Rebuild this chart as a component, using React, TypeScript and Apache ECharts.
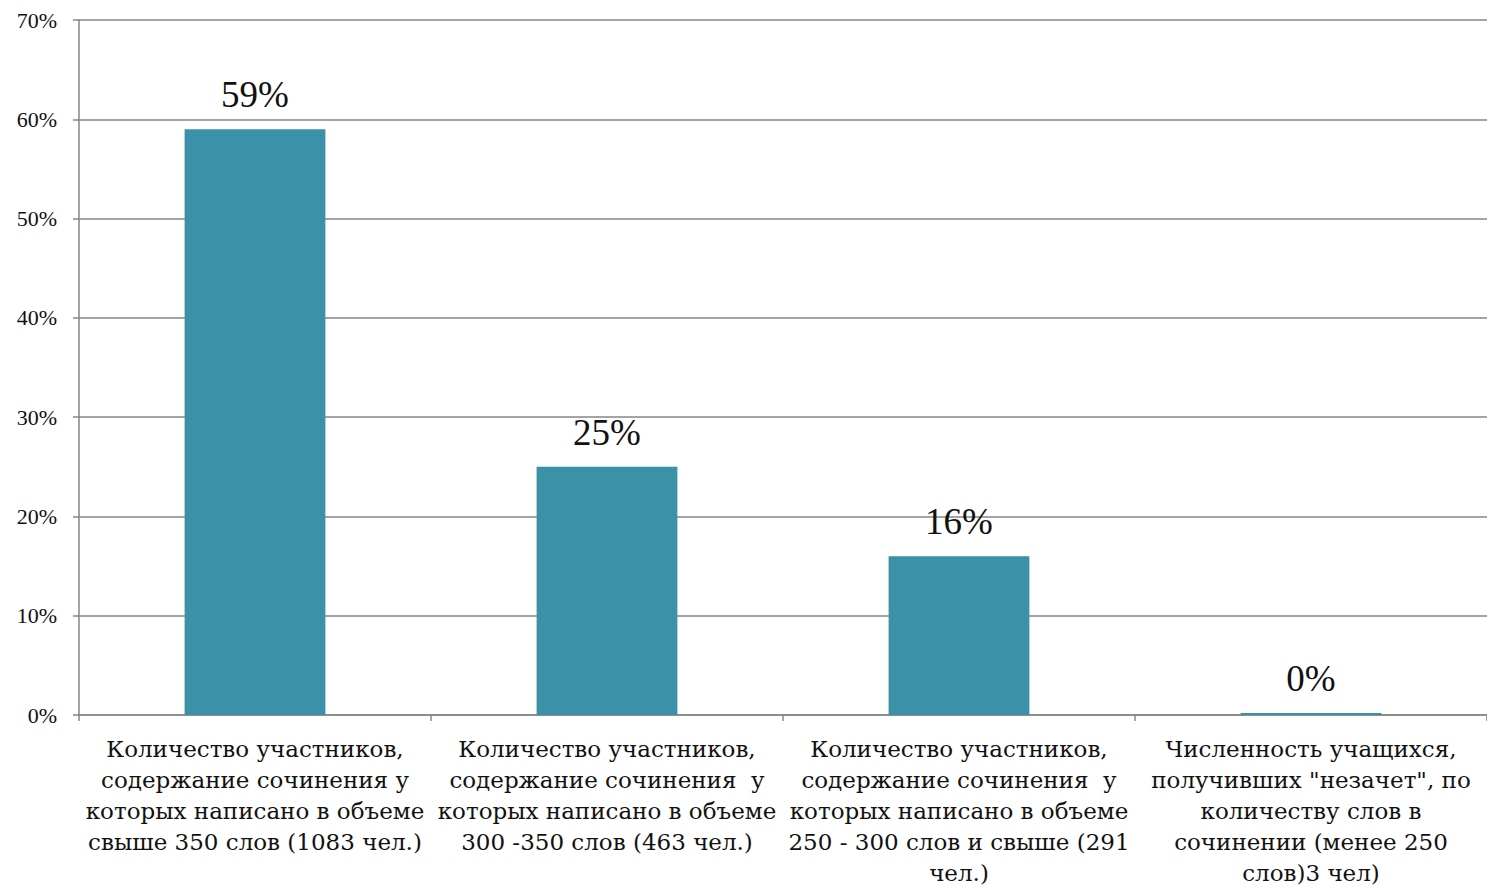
import React, { useEffect, useRef } from "react";
import * as echarts from "echarts";

const categories = [
  "Количество участников,\nсодержание сочинения у\nкоторых написано в объеме\nсвыше 350 слов (1083 чел.)",
  "Количество участников,\nсодержание сочинения  у\nкоторых написано в объеме\n300 -350 слов (463 чел.)",
  "Количество участников,\nсодержание сочинения  у\nкоторых написано в объеме\n250 - 300 слов и свыше (291\nчел.)",
  "Численность учащихся,\nполучивших \"незачет\", по\nколичеству слов в\nсочинении (менее 250\nслов)3 чел)",
];
const values = [59, 25, 16, 0.2];
const yTicks = [0, 10, 20, 30, 40, 50, 60, 70];

const SERIF = "'Liberation Serif', 'Times New Roman', serif";

export default function App() {
  const ref = useRef<HTMLDivElement>(null);
  useEffect(() => {
    document.body.style.margin = "0";
    const chart = echarts.init(ref.current!, null, { renderer: "svg" });
    chart.setOption({
      animation: false,
      grid: { left: 79, right: 0, top: 20, bottom: 167, containLabel: false },
      xAxis: {
        type: "category",
        data: categories,
        axisLine: { lineStyle: { color: "#868686", width: 1.5 } },
        axisTick: { show: true, length: 6, lineStyle: { color: "#868686", width: 1.5 } },
        axisLabel: {
          interval: 0,
          margin: 18,
          fontFamily: "'DejaVu Serif', serif",
          fontSize: 23,
          lineHeight: 31,
          color: "#111",
          align: "center",
        },
      },
      yAxis: {
        type: "value",
        min: yTicks[0],
        max: yTicks[yTicks.length - 1],
        interval: 10,
        axisLine: { show: true, lineStyle: { color: "#868686", width: 1.5 } },
        axisTick: { show: true, length: 6, lineStyle: { color: "#868686", width: 1.5 } },
        splitLine: { lineStyle: { color: "#868686", width: 1.5 } },
        axisLabel: {
          formatter: (v: number) => v + "%",
          fontFamily: SERIF,
          fontSize: 22,
          color: "#111",
          margin: 22,
        },
      },
      series: [
        {
          type: "bar",
          data: values,
          barWidth: "40%",
          itemStyle: { color: "#3A91A8" },
          label: {
            show: true,
            position: "top",
            distance: 16,
            formatter: (p: any) => Math.round(p.value) + "%",
            fontFamily: SERIF,
            fontSize: 37,
            color: "#111",
          },
        },
      ],
    });
    return () => chart.dispose();
  }, []);
  return <div ref={ref} style={{ width: 1487, height: 888 }} />;
}
